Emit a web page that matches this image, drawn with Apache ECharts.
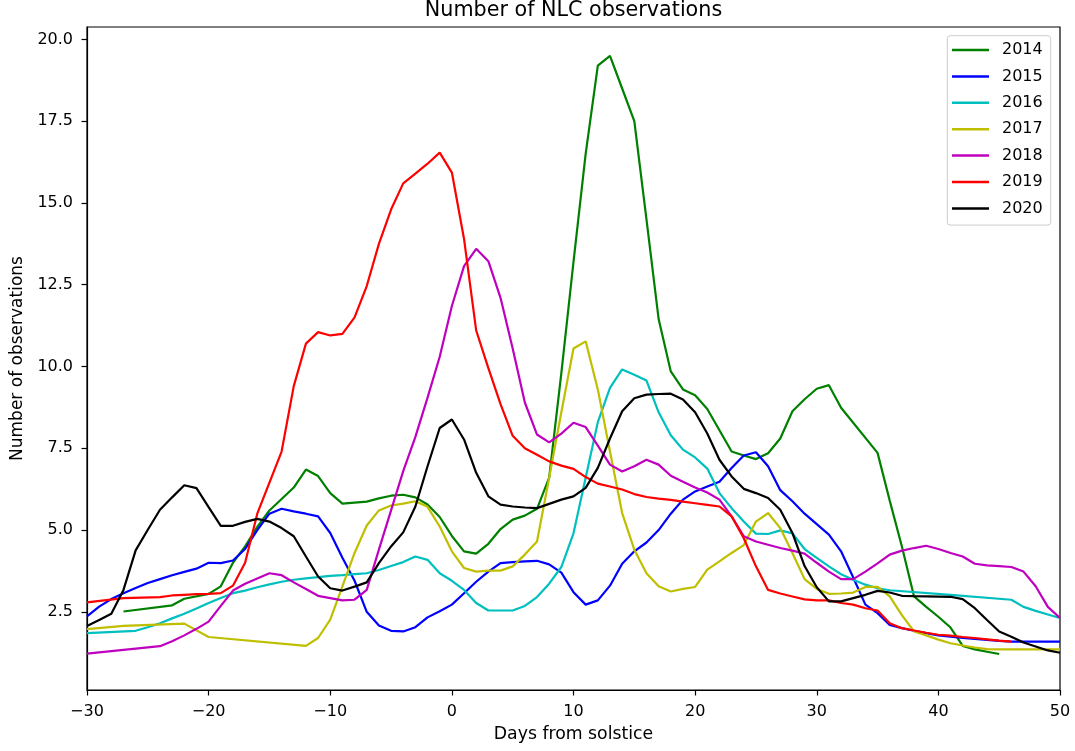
<!DOCTYPE html>
<html>
<head>
<meta charset="utf-8">
<script src="https://cdn.jsdelivr.net/npm/echarts@6/dist/echarts.min.js"></script>
<style>
  html, body { margin: 0; padding: 0; background: #fff; }
  #chart { width: 1075px; height: 751px; }
</style>
</head>
<body>
<div id="chart"></div>
<script>
// ---- data: [day from solstice, number of observations] ----
const years = ['2014', '2015', '2016', '2017', '2018', '2019', '2020'];
const colors = ['#008000', '#0000ff', '#00bfbf', '#bfbf00', '#bf00bf', '#ff0000', '#000000'];

const d2014 = [[-27,2.51],[-23,2.70],[-22,2.90],[-20,3.05],[-19,3.28],[-18,4.0],[-17,4.5],[-16,5.1],[-15,5.6],[-14,5.95],[-13,6.3],[-12,6.85],[-11,6.65],[-10,6.13],[-9,5.81],[-8,5.84],[-7,5.87],[-6,5.97],[-5,6.05],[-4,6.08],[-3,6.0],[-2,5.78],[-1,5.4],[0,4.82],[1,4.35],[2,4.28],[3,4.58],[4,5.03],[5,5.32],[6,5.44],[7,5.65],[8,6.6],[9,9.8],[10,13.2],[11,16.5],[12,19.2],[13,19.5],[14,18.5],[15,17.5],[16,14.5],[17,11.45],[18,9.85],[19,9.3],[20,9.12],[21,8.7],[22,8.05],[23,7.4],[24,7.28],[25,7.17],[26,7.35],[27,7.8],[28,8.63],[29,9.0],[30,9.32],[31,9.43],[32,8.74],[35,7.36],[36,5.9],[37,4.5],[38,2.97],[39,2.65],[40,2.35],[41,2.02],[42,1.46],[43,1.35],[44,1.28],[45,1.21]];

const d2015 = [[-30,2.36],[-29,2.66],[-28,2.89],[-27,3.07],[-26,3.23],[-25,3.38],[-24,3.5],[-23,3.62],[-22,3.72],[-21,3.82],[-20,4.0],[-19,3.99],[-18,4.07],[-17,4.42],[-16,5.0],[-15,5.5],[-14,5.65],[-13,5.57],[-12,5.5],[-11,5.42],[-10,4.91],[-9,4.15],[-8,3.45],[-7,2.5],[-6,2.08],[-5,1.92],[-4,1.9],[-3,2.03],[-2,2.33],[-1,2.52],[0,2.72],[1,3.07],[2,3.42],[3,3.73],[4,3.99],[5,4.02],[6,4.04],[7,4.06],[8,3.95],[9,3.7],[10,3.1],[11,2.72],[12,2.85],[13,3.3],[14,3.97],[15,4.35],[16,4.62],[17,5.0],[18,5.5],[19,5.93],[20,6.18],[21,6.33],[22,6.48],[23,6.9],[24,7.28],[25,7.38],[26,6.95],[27,6.22],[28,5.88],[29,5.5],[30,5.18],[31,4.86],[32,4.35],[33,3.55],[34,2.72],[35,2.46],[36,2.1],[37,2.0],[38,1.92],[39,1.85],[40,1.78],[41,1.74],[42,1.7],[43,1.67],[44,1.64],[45,1.61],[46,1.59],[50,1.59]];

const d2016 = [[-30,1.85],[-26,1.92],[-25,2.03],[-24,2.15],[-23,2.3],[-22,2.44],[-21,2.6],[-20,2.77],[-19,2.92],[-18,3.07],[-17,3.15],[-16,3.25],[-15,3.34],[-14,3.42],[-13,3.48],[-12,3.52],[-11,3.56],[-10,3.6],[-9,3.62],[-8,3.65],[-7,3.68],[-6,3.78],[-5,3.9],[-4,4.02],[-3,4.19],[-2,4.09],[-1,3.68],[0,3.45],[1,3.17],[2,2.77],[3,2.54],[4,2.54],[5,2.54],[6,2.68],[7,2.95],[8,3.36],[9,3.87],[10,4.9],[11,6.6],[12,8.3],[13,9.35],[14,9.91],[15,9.75],[16,9.57],[17,8.6],[18,7.9],[19,7.46],[20,7.22],[21,6.88],[22,6.13],[23,5.67],[24,5.26],[25,4.89],[26,4.88],[27,4.99],[28,4.9],[29,4.42],[30,4.15],[31,3.89],[32,3.65],[33,3.48],[34,3.33],[35,3.22],[36,3.16],[41,3.02],[46,2.87],[47,2.65],[48,2.53],[49,2.42],[50,2.31]];

const d2017 = [[-30,1.97],[-27,2.07],[-22,2.14],[-20,1.73],[-12,1.46],[-11,1.7],[-10,2.26],[-9,3.28],[-8,4.3],[-7,5.14],[-6,5.6],[-5,5.75],[-4,5.81],[-3,5.88],[-2,5.71],[-1,5.11],[0,4.35],[1,3.84],[2,3.73],[3,3.76],[4,3.76],[5,3.89],[6,4.25],[7,4.65],[8,6.6],[9,8.6],[10,10.55],[11,10.77],[12,9.3],[13,7.4],[14,5.52],[15,4.4],[16,3.68],[17,3.28],[18,3.12],[19,3.2],[20,3.26],[21,3.79],[22,4.04],[23,4.3],[24,4.54],[25,5.26],[26,5.52],[27,5.06],[28,4.3],[29,3.5],[30,3.2],[31,3.05],[32,3.06],[33,3.09],[34,3.26],[35,3.26],[36,2.97],[37,2.4],[38,1.9],[39,1.78],[40,1.65],[41,1.54],[42,1.47],[43,1.41],[44,1.36],[45,1.35],[50,1.35]];

const d2018 = [[-30,1.22],[-24,1.45],[-23,1.6],[-22,1.78],[-21,1.98],[-20,2.2],[-19,2.68],[-18,3.15],[-17,3.36],[-16,3.52],[-15,3.68],[-14,3.62],[-13,3.4],[-12,3.2],[-11,2.99],[-10,2.92],[-9,2.85],[-8,2.87],[-7,3.17],[-6,4.4],[-5,5.6],[-4,6.8],[-3,7.85],[-2,9.05],[-1,10.3],[0,11.85],[1,13.07],[2,13.6],[3,13.22],[4,12.1],[5,10.55],[6,8.9],[7,7.92],[8,7.68],[9,7.95],[10,8.28],[11,8.15],[12,7.58],[13,7.0],[14,6.79],[15,6.95],[16,7.15],[17,7.0],[18,6.66],[19,6.48],[20,6.3],[21,6.15],[22,5.93],[23,5.42],[24,4.81],[25,4.65],[26,4.55],[27,4.45],[28,4.37],[29,4.28],[30,4.0],[31,3.73],[32,3.5],[33,3.5],[34,3.73],[35,3.98],[36,4.25],[37,4.37],[38,4.45],[39,4.52],[40,4.42],[41,4.3],[42,4.19],[43,3.97],[44,3.92],[45,3.9],[46,3.87],[47,3.73],[48,3.28],[49,2.65],[50,2.31]];

const d2019 = [[-30,2.79],[-27,2.92],[-24,2.95],[-23,3.0],[-22,3.02],[-21,3.04],[-20,3.05],[-19,3.07],[-18,3.3],[-17,4.0],[-16,5.5],[-15,6.45],[-14,7.4],[-13,9.4],[-12,10.7],[-11,11.05],[-10,10.95],[-9,11.0],[-8,11.5],[-7,12.46],[-6,13.75],[-5,14.8],[-4,15.6],[-3,15.9],[-2,16.2],[-1,16.54],[0,15.93],[1,13.9],[2,11.1],[3,9.95],[4,8.85],[5,7.88],[6,7.5],[7,7.3],[8,7.1],[9,6.97],[10,6.87],[11,6.62],[12,6.42],[13,6.33],[14,6.24],[15,6.1],[16,6.01],[17,5.96],[18,5.92],[19,5.87],[20,5.82],[21,5.77],[22,5.72],[23,5.42],[24,4.75],[25,3.89],[26,3.17],[27,3.06],[28,2.97],[29,2.88],[30,2.85],[31,2.85],[32,2.77],[33,2.72],[34,2.61],[35,2.54],[36,2.15],[37,2.0],[38,1.93],[39,1.86],[40,1.8],[41,1.77],[42,1.73],[43,1.7],[44,1.66],[45,1.62],[46,1.59]];

const d2020 = [[-30,2.07],[-29,2.25],[-28,2.44],[-27,3.17],[-26,4.38],[-25,5.01],[-24,5.62],[-23,6.0],[-22,6.37],[-21,6.28],[-20,5.7],[-19,5.13],[-18,5.13],[-17,5.25],[-16,5.34],[-15,5.26],[-14,5.06],[-13,4.81],[-12,4.19],[-11,3.58],[-10,3.22],[-9,3.15],[-8,3.27],[-7,3.4],[-6,3.99],[-5,4.5],[-4,4.93],[-3,5.72],[-2,6.95],[-1,8.12],[0,8.38],[1,7.77],[2,6.75],[3,6.03],[4,5.78],[5,5.72],[6,5.69],[7,5.67],[8,5.8],[9,5.93],[10,6.03],[11,6.29],[12,6.9],[13,7.8],[14,8.63],[15,9.03],[16,9.14],[17,9.16],[18,9.17],[19,8.99],[20,8.6],[21,7.95],[22,7.15],[23,6.64],[24,6.26],[25,6.13],[26,5.98],[27,5.62],[28,4.91],[29,3.9],[30,3.25],[31,2.82],[32,2.82],[33,2.92],[34,3.02],[35,3.14],[36,3.09],[37,2.99],[38,2.98],[41,2.96],[42,2.89],[43,2.61],[44,2.25],[45,1.9],[46,1.74],[47,1.56],[48,1.44],[49,1.32],[50,1.25]];

const seriesData = [d2014, d2015, d2016, d2017, d2018, d2019, d2020];
const yTicks = [2.5, 5.0, 7.5, 10.0, 12.5, 15.0, 17.5, 20.0];

const FONT = 'DejaVu Sans';
const chart = echarts.init(document.getElementById('chart'), null, { renderer: 'canvas' });

chart.setOption({
  animation: false,
  backgroundColor: '#ffffff',
  title: {
    text: 'Number of NLC observations',
    left: 573.5,
    textAlign: 'center',
    top: 0,
    padding: 0,
    textStyle: { fontFamily: FONT, fontSize: 20.7, fontWeight: 'normal', color: '#000' }
  },
  legend: {
    orient: 'vertical',
    right: 24.3,
    top: 35.7,
    data: years,
    icon: 'rect',
    itemWidth: 37,
    itemHeight: 2.5,
    itemGap: 8.4,
    padding: [5.3, 8, 7.7, 4.7],
    backgroundColor: 'rgba(255,255,255,0.8)',
    borderColor: '#cccccc',
    borderWidth: 1,
    borderRadius: 3,
    textStyle: { fontFamily: FONT, fontSize: 16, color: '#000', lineHeight: 18, padding: [0, 0, 0, 8] }
  },
  grid: {
    left: 87, right: 15, top: 27, bottom: 61,
    show: true, borderColor: '#000', borderWidth: 1.2, backgroundColor: 'transparent'
  },
  xAxis: {
    type: 'value',
    min: -30, max: 50, interval: 10,
    name: 'Days from solstice',
    nameLocation: 'middle',
    nameGap: 36,
    nameTextStyle: { fontFamily: FONT, fontSize: 17.3, color: '#000' },
    axisLine: { show: true, onZero: false, lineStyle: { color: '#000', width: 1.2 } },
    axisTick: { show: true, inside: false, length: 5.5, lineStyle: { color: '#000', width: 1.2 } },
    splitLine: { show: false },
    axisLabel: {
      fontFamily: FONT, fontSize: 16, color: '#000', margin: 14,
      formatter: v => (v < 0 ? '\u2212' + (-v) : String(v))
    }
  },
  yAxis: {
    type: 'value',
    min: 0.11, max: 20.38,
    name: 'Number of observations',
    nameLocation: 'middle',
    nameGap: 60,
    nameTextStyle: { fontFamily: FONT, fontSize: 17, color: '#000' },
    axisLine: { show: true, onZero: false, lineStyle: { color: '#000', width: 1.2 } },
    axisTick: { show: true, inside: false, length: 5.5, customValues: yTicks, lineStyle: { color: '#000', width: 1.2 } },
    splitLine: { show: false },
    axisLabel: {
      fontFamily: FONT, fontSize: 16, color: '#000', margin: 14,
      customValues: yTicks,
      formatter: v => Number(v).toFixed(1)
    }
  },
  series: years.map((y, i) => ({
    name: y,
    type: 'line',
    data: seriesData[i],
    showSymbol: false,
    symbol: 'none',
    color: colors[i],
    lineStyle: { color: colors[i], width: 2.2 },
    itemStyle: { color: colors[i] },
    emphasis: { disabled: true }
  }))
});
</script>
</body>
</html>
